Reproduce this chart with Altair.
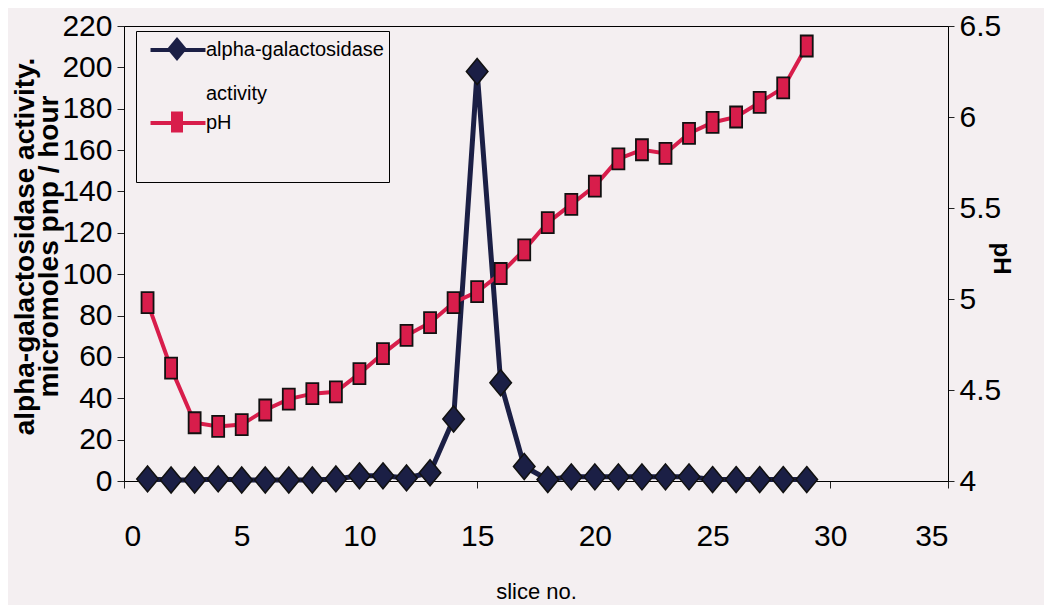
import altair as alt
import pandas as pd

# ---- data ----
slices = list(range(1, 30))
activity = [1, 0.5, 0.5, 1, 0.5, 0.5, 0.5, 0.5, 1, 2.5, 2.5, 1.5, 4, 30, 198, 47.5, 7,
            0.7, 2, 2, 2, 2, 2, 2, 0.7, 0.7, 0.7, 0.7, 0.7]
ph = [4.98, 4.62, 4.32, 4.30, 4.31, 4.39, 4.45, 4.48, 4.49, 4.59, 4.70, 4.80, 4.87,
      4.98, 5.04, 5.14, 5.27, 5.42, 5.52, 5.62, 5.77, 5.82, 5.80, 5.91, 5.97, 6.00,
      6.08, 6.16, 6.39]
series_names = ["alpha-galactosidase activity", "pH"]
x_ticks = [0, 5, 10, 15, 20, 25, 30, 35]
act_ticks = [0, 20, 40, 60, 80, 100, 120, 140, 160, 180, 200, 220]
ph_ticks = [4, 4.5, 5, 5.5, 6, 6.5]

NAVY = "#1b1f45"
RED = "#d81d4b"
BG = "#f4eff1"
FONT = "Liberation Sans, Arial, sans-serif"

# marker outlines (unit box = half the symbol size)
DIAMOND = "M0,-1L0.83,0L0,1L-0.83,0Z"
RECT = "M-0.5,-0.875H0.5V0.875H-0.5Z"
LEG_LINE = "M-2.29,0H2.29"

df_act = pd.DataFrame({"slice": slices, "value": activity,
                       "series": series_names[0], "marker": series_names[0]})
df_ph = pd.DataFrame({"slice": slices, "value": ph,
                      "series": series_names[1], "marker": series_names[1]})

BLANK = "\u2800"
label_expr = ("datum.label == 'pH' ? ['pH', '" + BLANK + "', '" + BLANK + "'] : "
              "['alpha-galactosidase', '" + BLANK + "', 'activity']")

common_leg = dict(orient="none", legendX=12, legendY=5, title=None,
                  symbolSize=576, symbolOffset=23, labelFont=FONT, labelFontSize=20,
                  labelColor="black", labelExpr=label_expr, labelLimit=500,
                  labelOffset=14, padding=5, rowPadding=5)

line_legend = alt.Legend(symbolType=LEG_LINE, symbolStrokeWidth=4,
                         strokeColor="black", fillColor=BG, zindex=1, **common_leg)
point_legend = alt.Legend(symbolStrokeColor="#111111", symbolStrokeWidth=1.5,
                          labelOpacity=0, zindex=2, **common_leg)

color_scale = alt.Scale(domain=series_names, range=[NAVY, RED])
fill_scale = alt.Scale(range=[NAVY, RED])
shape_scale = alt.Scale(range=[DIAMOND, RECT])

x_enc = alt.X("slice:Q", scale=alt.Scale(domain=[0, 35], nice=False),
              axis=alt.Axis(values=x_ticks, title="slice no.", grid=False,
                            tickSize=7, labelPadding=33, labelFont=FONT,
                            labelFontSize=30, labelColor="black",
                            titleFont=FONT, titleFontSize=22,
                            titleFontWeight="normal", titleColor="black",
                            titleY=110, titleBaseline="middle"))

y_act = alt.Y("value:Q", scale=alt.Scale(domain=[0, 220], nice=False, zero=False),
              axis=alt.Axis(orient="left", values=act_ticks, grid=False,
                            tickSize=7, labelPadding=5, labelFont=FONT,
                            labelFontSize=30, labelColor="black",
                            title=["alpha-galactosidase activity.",
                                   "micromoles pnp / hour"],
                            titleFont=FONT, titleFontSize=28, titleFontWeight="bold",
                            titleColor="black", titleLineHeight=24,
                            titleX=-85, titleY=220, titleAngle=270,
                            titleBaseline="bottom", titleAlign="center"))

y_ph = alt.Y("value:Q", scale=alt.Scale(domain=[4, 6.5], nice=False, zero=False),
             axis=alt.Axis(orient="right", values=ph_ticks, format="~g", grid=False,
                           tickSize=6, labelPadding=5, labelFont=FONT,
                           labelFontSize=30, labelColor="black",
                           title="pH", titleFont=FONT, titleFontSize=24,
                           titleFontWeight="bold", titleColor="black",
                           titleX=52, titleY=232, titleAngle=90,
                           titleBaseline="middle", titleAlign="center"))

act_line = alt.Chart(df_act).mark_line(strokeWidth=5).encode(
    x=x_enc, y=y_act,
    color=alt.Color("series:N", scale=color_scale, legend=line_legend))
act_pts = alt.Chart(df_act).mark_point(filled=True, size=676, stroke="#111111",
                                       strokeWidth=1.5, opacity=1).encode(
    x=x_enc, y=y_act,
    fill=alt.Fill("marker:N", scale=fill_scale, legend=point_legend),
    shape=alt.Shape("marker:N", scale=shape_scale, legend=point_legend))

ph_line = alt.Chart(df_ph).mark_line(strokeWidth=4).encode(
    x=x_enc, y=y_ph,
    color=alt.Color("series:N", scale=color_scale, legend=line_legend))
ph_pts = alt.Chart(df_ph).mark_point(filled=True, size=576, stroke="#111111",
                                     strokeWidth=1.8, opacity=1).encode(
    x=x_enc, y=y_ph,
    fill=alt.Fill("marker:N", scale=fill_scale, legend=point_legend),
    shape=alt.Shape("marker:N", scale=shape_scale, legend=point_legend))

left = alt.layer(act_line, act_pts)
right = alt.layer(ph_line, ph_pts)

chart = alt.layer(left, right).resolve_scale(y="independent").properties(
    width=824, height=455, background=BG,
    autosize=alt.AutoSizeParams(type="none"),
    padding={"left": 116, "top": 18, "right": 96, "bottom": 124},
).configure_view(stroke="black", strokeWidth=1).configure_axis(
    domainColor="black", tickColor="#222222", domainWidth=1, tickWidth=1)

chart.save("out.html", embed_options={"renderer": "svg", "actions": False})
